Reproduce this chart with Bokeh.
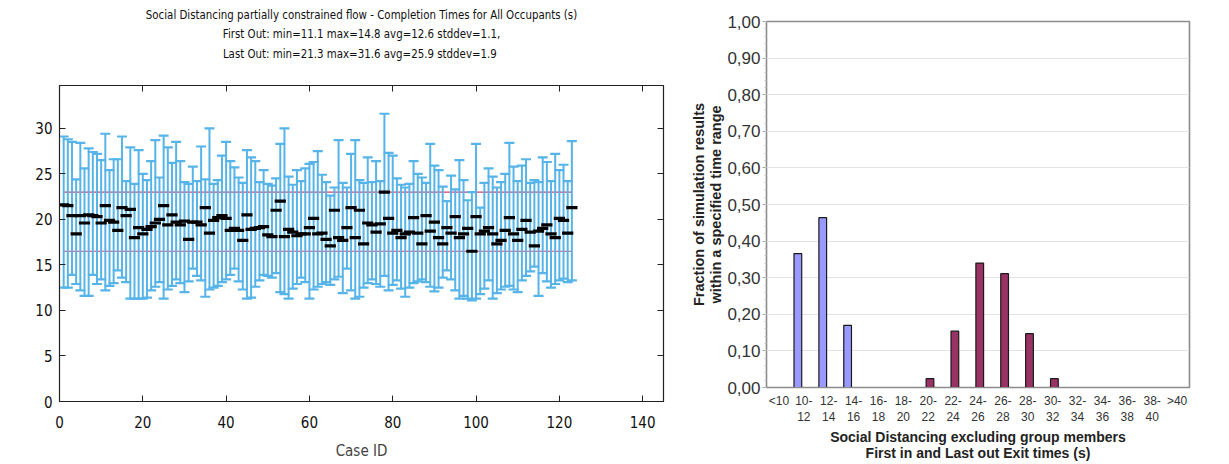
from bokeh.plotting import figure
from bokeh.models import Range1d, LinearAxis, FixedTicker, CustomJSTickFormatter, BoxAnnotation
from bokeh.layouts import row, column
from bokeh.embed import file_html
from bokeh.resources import INLINE

# ---------------- Left chart data ----------------
case_ids = list(range(1, 124))
first_out = [12.5, 12.5, 13.9, 12.9, 12.2, 11.6, 11.6, 13.9, 12.9, 13.4,
             12.2, 12.7, 13.0, 14.4, 13.6, 13.1, 11.3, 11.3, 11.3, 11.3,
             11.4, 12.2, 12.6, 13.1, 11.3, 12.3, 12.7, 13.4, 13.0, 12.0,
             13.2, 14.6, 13.8, 13.3, 11.5, 12.3, 12.5, 12.7, 13.1, 13.4,
             13.9, 14.6, 13.2, 12.3, 11.3, 11.4, 12.6, 13.3, 13.9, 13.8,
             13.6, 14.1, 12.0, 11.8, 11.3, 12.4, 12.9, 13.6, 13.1, 11.3,
             12.3, 12.6, 12.9, 13.1, 12.8, 13.4, 13.7, 11.9, 14.6, 12.2,
             11.3, 11.5, 12.5, 13.0, 13.4, 12.9, 12.6, 13.8, 12.2, 12.8,
             13.3, 12.4, 11.5, 12.5, 13.0, 13.2, 13.4, 13.1, 12.6, 12.1,
             12.5, 13.6, 14.4, 13.4, 12.2, 11.3, 11.6, 11.3, 11.1, 11.3,
             11.8, 12.4, 13.3, 11.3, 11.9, 12.3, 12.6, 12.7, 12.3, 12.0,
             13.3, 13.8, 14.3, 14.8, 11.6, 14.1, 13.2, 12.5, 12.9, 13.3,
             13.5, 13.1, 13.3]
last_out = [29.1, 28.8, 28.5, 24.4, 28.4, 25.6, 27.8, 27.4, 27.2, 26.5,
            29.4, 25.4, 26.6, 26.6, 29.1, 24.2, 27.9, 23.9, 27.6, 25.0,
            24.3, 26.4, 28.7, 24.6, 29.2, 27.9, 26.2, 28.5, 26.4, 24.1,
            23.9, 25.8, 24.2, 28.0, 24.4, 30.0, 23.9, 24.3, 27.0, 28.5,
            26.4, 25.7, 24.6, 24.0, 27.6, 26.8, 26.4, 24.1, 25.4, 23.9,
            23.7, 24.5, 28.3, 30.0, 24.7, 23.8, 25.4, 24.2, 25.6, 26.1,
            26.3, 27.5, 24.9, 24.1, 22.6, 23.5, 28.7, 24.0, 23.5, 27.2,
            28.7, 24.3, 24.0, 26.8, 24.1, 26.4, 24.2, 31.6, 27.3, 27.0,
            24.5, 23.8, 23.5, 23.9, 26.4, 25.0, 24.6, 24.0, 28.3, 25.9,
            25.4, 23.6, 22.0, 24.8, 23.3, 26.5, 24.3, 22.1, 23.0, 28.3,
            21.3, 24.0, 25.6, 24.7, 23.5, 24.1, 25.0, 28.4, 25.8, 24.2,
            25.9, 26.6, 24.0, 24.3, 24.1, 26.8, 26.3, 24.2, 27.2, 25.4,
            26.0, 24.2, 28.6]
mean_out = [21.6, 21.5, 20.4, 18.4, 20.4, 19.6, 20.5, 20.4, 20.3, 19.6,
            21.5, 19.9, 19.7, 18.8, 21.3, 20.4, 21.1, 18.0, 19.1, 18.4,
            18.9, 19.2, 19.6, 20.0, 21.5, 19.4, 20.5, 19.7, 19.4, 19.8,
            17.8, 19.7, 19.7, 19.4, 21.3, 18.5, 19.9, 20.2, 20.4, 20.1,
            18.8, 19.0, 18.8, 17.7, 20.5, 18.9, 19.0, 19.1, 19.2, 18.3,
            18.1, 21.0, 22.0, 18.1, 18.9, 18.6, 18.2, 18.4, 18.4, 19.1,
            20.1, 18.4, 18.5, 17.8, 17.1, 21.0, 18.0, 17.7, 19.1, 21.3,
            18.0, 21.0, 17.3, 19.6, 19.4, 18.6, 19.5, 23.0, 20.1, 18.5,
            18.8, 18.0, 18.4, 18.6, 20.2, 18.5, 17.3, 20.4, 18.7, 19.7,
            18.0, 17.3, 19.1, 18.5, 20.3, 18.0, 18.4, 19.0, 16.5, 20.3,
            18.4, 18.7, 19.1, 18.4, 17.3, 17.7, 18.8, 20.2, 18.4, 17.7,
            18.9, 19.9, 18.6, 17.1, 18.7, 19.0, 19.4, 18.4, 18.0, 20.1,
            19.9, 18.5, 21.3]
left_title = ["Social Distancing partially constrained flow - Completion Times for All Occupants (s)",
              "First Out: min=11.1 max=14.8 avg=12.6 stddev=1.1,",
              " Last Out: min=21.3 max=31.6 avg=25.9 stddev=1.9"]
left_xticks = [0, 20, 40, 60, 80, 100, 120, 140]
left_yticks = [0, 5, 10, 15, 20, 25, 30]

# ---------------- Right chart data ----------------
bins = ["<10", "10-12", "12-14", "14-16", "16-18", "18-20", "20-22", "22-24", "24-26",
        "26-28", "28-30", "30-32", "32-34", "34-36", "36-38", "38-40", ">40"]
first_frac = [0, 0.366, 0.464, 0.170, 0, 0, 0, 0, 0, 0, 0, 0, 0, 0, 0, 0, 0]
last_frac = [0, 0, 0, 0, 0, 0, 0.024, 0.154, 0.340, 0.311, 0.147, 0.024, 0, 0, 0, 0, 0]
right_yticks = [0, 0.1, 0.2, 0.3, 0.4, 0.5, 0.6, 0.7, 0.8, 0.9, 1.0]

NARROW = "'Liberation Sans Narrow', 'DejaVu Sans Condensed', Roboto, sans-serif"
ARIAL = "'Liberation Sans', Arial, sans-serif"
BLUE = "#56B4E9"
EMPTY = CustomJSTickFormatter(code="return '';")


def page_rule(fig, left, right, top, bottom):
    """Black scan-border rule drawn in canvas pixel units."""
    fig.add_layout(BoxAnnotation(left=left, right=right, top=top, bottom=bottom,
                                 left_units="canvas", right_units="canvas",
                                 top_units="canvas", bottom_units="canvas",
                                 fill_color="#111111", fill_alpha=1.0, line_color=None,
                                 level="overlay", editable=False))


# ================= Left figure =================
p1 = figure(width=680, height=464, x_range=Range1d(0, 145), y_range=Range1d(0, 34.7),
            output_backend="svg", toolbar_location=None, title=None,
            min_border_left=59, min_border_right=17, min_border_top=85, min_border_bottom=63)
p1.grid.visible = False
p1.outline_line_color = "#222222"
p1.outline_line_width = 1.2
p1.background_fill_color = "white"

for ax in [p1.xaxis[0], p1.yaxis[0]]:
    ax.major_tick_in = 6
    ax.major_tick_out = 0
    ax.minor_tick_line_color = None
    ax.axis_line_color = "#222222"
    ax.major_tick_line_color = "#222222"
    ax.major_label_text_font = NARROW
    ax.major_label_text_font_size = "15px"
    ax.major_label_text_color = "#111111"
p1.xaxis[0].ticker = FixedTicker(ticks=left_xticks)
p1.yaxis[0].ticker = FixedTicker(ticks=left_yticks)
p1.xaxis[0].major_label_standoff = 14
p1.yaxis[0].major_label_standoff = 7
p1.xaxis[0].axis_label = "Case ID"
p1.xaxis[0].axis_label_text_font = NARROW
p1.xaxis[0].axis_label_text_font_size = "15px"
p1.xaxis[0].axis_label_text_font_style = "normal"
p1.xaxis[0].axis_label_standoff = 11

top_ax = LinearAxis(ticker=FixedTicker(ticks=left_xticks), formatter=EMPTY,
                    major_tick_in=6, major_tick_out=0,
                    minor_tick_line_color=None, axis_line_color=None,
                    major_label_standoff=0, major_tick_line_color="#222222",
                    axis_label="\n".join(left_title),
                    axis_label_text_font=NARROW, axis_label_text_font_size="11.4px",
                    axis_label_text_font_style="normal", axis_label_text_color="#111111",
                    axis_label_text_line_height=1.37, axis_label_standoff=25)
right_ax = LinearAxis(ticker=FixedTicker(ticks=left_yticks), formatter=EMPTY,
                      major_tick_in=6, major_tick_out=0,
                      minor_tick_line_color=None, axis_line_color=None,
                      major_label_standoff=0, major_tick_line_color="#222222")
p1.add_layout(top_ax, "above")
p1.add_layout(right_ax, "right")

lo = min(mean_out)
hi = max(mean_out)
x_first = min(case_ids)
x_last = max(case_ids)
p1.segment(x0=[x_first, x_first], x1=[x_last, x_last], y0=[lo, hi], y1=[lo, hi],
           line_color="#D0406E", line_width=1.2)
p1.segment(x0=case_ids, x1=case_ids, y0=first_out, y1=last_out, line_color=BLUE, line_width=2)
cap = 1.2
p1.segment(x0=[c - cap for c in case_ids], x1=[c + cap for c in case_ids], y0=last_out, y1=last_out,
           line_color=BLUE, line_width=2.2)
p1.segment(x0=[c - cap for c in case_ids], x1=[c + cap for c in case_ids], y0=first_out, y1=first_out,
           line_color=BLUE, line_width=2.2)
dash = 1.35
p1.segment(x0=[c - dash for c in case_ids], x1=[c + dash for c in case_ids], y0=mean_out, y1=mean_out,
           line_color="#000000", line_width=3.2)

page_rule(p1, 0, 680, 0, 3)
page_rule(p1, 5, 7, 0, 464)

# ================= Right figure =================
p2 = figure(width=549, height=464, x_range=Range1d(-0.5, 16.5), y_range=Range1d(0, 1.0),
            output_backend="svg", toolbar_location=None, title=None,
            min_border_left=86, min_border_right=40, min_border_top=21, min_border_bottom=75)
p2.xgrid.visible = False
p2.ygrid.grid_line_color = "#E3E3E3"
p2.ygrid.ticker = FixedTicker(ticks=right_yticks)
p2.outline_line_color = "#8C8C8C"
p2.outline_line_width = 1.6

ya = p2.yaxis[0]
ya.ticker = FixedTicker(ticks=right_yticks, minor_ticks=[i / 50 for i in range(51)])
ya.formatter = CustomJSTickFormatter(code="return tick.toFixed(2).replace('.', ',');")
ya.major_tick_out = 4
ya.major_tick_in = 0
ya.minor_tick_out = 2
ya.minor_tick_in = 0
ya.major_tick_line_color = "#A0A0A0"
ya.minor_tick_line_color = "#C0C0C0"
ya.axis_line_color = "#8C8C8C"
ya.major_label_text_font = ARIAL
ya.major_label_text_font_size = "17px"
ya.major_label_text_color = "#333333"
ya.major_label_standoff = 2
ya.axis_label = "Fraction of simulation results\nwithin a specified time range"
ya.axis_label_text_font = ARIAL
ya.axis_label_text_font_size = "14.5px"
ya.axis_label_text_font_style = "bold"
ya.axis_label_text_color = "#222222"
ya.axis_label_text_line_height = 1.1
ya.axis_label_standoff = 0

xa = p2.xaxis[0]
xa.ticker = FixedTicker(ticks=list(range(len(bins))))
xa.major_label_overrides = {i: b.replace("-", "-\n") for i, b in enumerate(bins)}
xa.major_tick_line_color = None
xa.minor_tick_line_color = None
xa.axis_line_color = "#8C8C8C"
xa.major_label_text_font = ARIAL
xa.major_label_text_font_size = "12px"
xa.major_label_text_color = "#333333"
xa.major_label_standoff = 0
xa.axis_label = "Social Distancing excluding group members\nFirst in and Last out Exit times (s)"
xa.axis_label_text_font = ARIAL
xa.axis_label_text_font_size = "14px"
xa.axis_label_text_font_style = "bold"
xa.axis_label_text_color = "#222222"
xa.axis_label_text_line_height = 1.0
xa.axis_label_standoff = 2

bw = 0.31
fx = [i - 0.24 for i, v in enumerate(first_frac) if v > 0]
fv = [v for v in first_frac if v > 0]
lx = [i + 0.07 for i, v in enumerate(last_frac) if v > 0]
lv = [v for v in last_frac if v > 0]
p2.vbar(x=fx, top=fv, width=bw, fill_color="#9999FF", line_color="#1A1A1A", line_width=1.2)
p2.vbar(x=lx, top=lv, width=bw, fill_color="#993366", line_color="#1A1A1A", line_width=1.2)

page_rule(p2, 0, 549, 0, 3)

layout = row(column(p1), column(p2))
open("out.html", "w").write(file_html(layout, INLINE))
